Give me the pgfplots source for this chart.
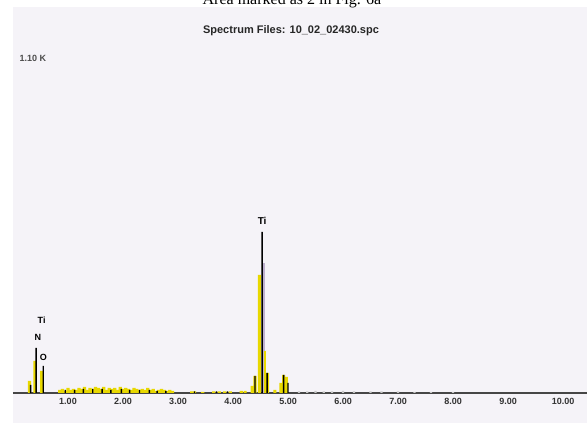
\documentclass[border=0pt]{standalone}
\usepackage{pgfplots}
\pgfplotsset{compat=1.18}
\usepackage{fontspec}
\setmainfont{Liberation Sans}
\newfontfamily\seriffont{Liberation Serif}
\definecolor{panel}{RGB}{245,243,248}
\definecolor{specyel}{RGB}{232,216,0}
\definecolor{specpur}{RGB}{190,176,206}
\definecolor{axline}{RGB}{70,70,70}
\begin{document}
\begin{tikzpicture}[x=1pt,y=1pt]
\useasboundingbox (0,0) rectangle (587,423);
\fill[panel] (13,0) rectangle (587,416);
\node[anchor=base,font=\seriffont\fontsize{16}{18}\selectfont] at (292,418) {Area marked as 2 in Fig. 6a};
\begin{axis}[
  at={(13pt,30pt)}, anchor=origin,
  scale only axis, width=574pt, height=380pt,
  xmin=0, xmax=10.436, ymin=0, ymax=380,
  axis x line=bottom, axis y line=none,
  axis line style={axline, line width=1.5pt, -},
  xtick={1,2,3,4,5,6,7,8,9,10},
  xticklabels={1.00,2.00,3.00,4.00,5.00,6.00,7.00,8.00,9.00,10.00},
  xticklabel style={font=\bfseries\fontsize{9}{10}\selectfont, text=black!80, yshift=-2pt},
  major tick length=0pt,
  clip=false,
]
% yellow spectrum
\addplot[ybar, bar shift=0pt, bar width=0.055, fill=specyel, draw=none] coordinates {
(0.30,12) (0.40,32) (0.52,22)
(0.85,3) (0.90,4) (0.95,2) (1.00,5) (1.05,3) (1.10,4) (1.15,3) (1.20,5) (1.25,4) (1.30,6)
(1.35,3) (1.40,5) (1.45,4) (1.50,6) (1.55,5) (1.60,4) (1.65,6) (1.70,3) (1.75,5) (1.80,4)
(1.85,5) (1.90,3) (1.95,6) (2.00,4) (2.05,5) (2.10,4) (2.15,3) (2.20,5) (2.25,4) (2.30,3)
(2.35,4) (2.40,3) (2.45,5) (2.50,3) (2.55,4) (2.60,2) (2.65,3) (2.70,4) (2.75,3) (2.80,2)
(2.85,3) (2.90,2)
(3.25,1.5) (3.30,1.5) (3.45,1) (3.65,1.5) (3.75,1.5) (3.85,1.5) (3.95,1.5) (4.15,2) (4.22,2)
(4.35,7) (4.40,17) (4.48,118) (4.57,42) (4.63,20) (4.76,3) (4.87,10) (4.92,18) (4.97,16)
};
% purple overlay
\addplot[ybar, bar shift=0pt, bar width=0.05, fill=specpur, draw=none] coordinates {
(4.565,130)
};
\addplot[ybar, bar shift=0pt, bar width=0.03, fill=specyel, draw=none] coordinates {
(4.585,42)
};
% black spectrum
\addplot[ybar, bar shift=0pt, bar width=1.4pt, fill=black, draw=none] coordinates {
(0.32,8) (0.42,45) (0.55,27)
(0.95,3) (1.12,3) (1.28,4) (1.45,4) (1.62,4) (1.78,3) (1.97,4) (2.12,3) (2.30,3) (2.48,3) (2.62,2) (2.78,2)
(3.30,1.5) (3.70,1.5) (3.90,1.5)
(4.40,17) (4.53,161) (4.62,20) (4.92,18) (5.00,10)
};
% faint gray tail
\addplot[ybar, bar shift=0pt, bar width=0.04, fill=black!22, draw=none] coordinates {
(5.20,1.5) (5.35,1.5) (5.50,2) (5.65,1.5) (5.80,1.5) (6.00,2) (6.20,1.5) (6.50,1.5) (6.70,1.5) (7.00,1.5) (7.30,1) (7.60,1) (8.00,1)
};
\node[font=\bfseries\fontsize{10}{11}\selectfont] at (axis cs:4.53,172) {Ti};
\node[font=\bfseries\fontsize{9}{10}\selectfont] at (axis cs:0.52,73) {Ti};
\node[font=\bfseries\fontsize{9}{10}\selectfont] at (axis cs:0.45,56) {N};
\node[font=\bfseries\fontsize{9}{10}\selectfont] at (axis cs:0.55,36) {O};
\end{axis}
\node[font=\bfseries\fontsize{11}{12}\selectfont, text=black!85] at (291,392) {Spectrum Files: 10\_02\_02430.spc};
\node[font=\bfseries\fontsize{9}{10}\selectfont, text=black!70, anchor=west] at (16,365) {1.10 K};
\end{tikzpicture}
\end{document}
